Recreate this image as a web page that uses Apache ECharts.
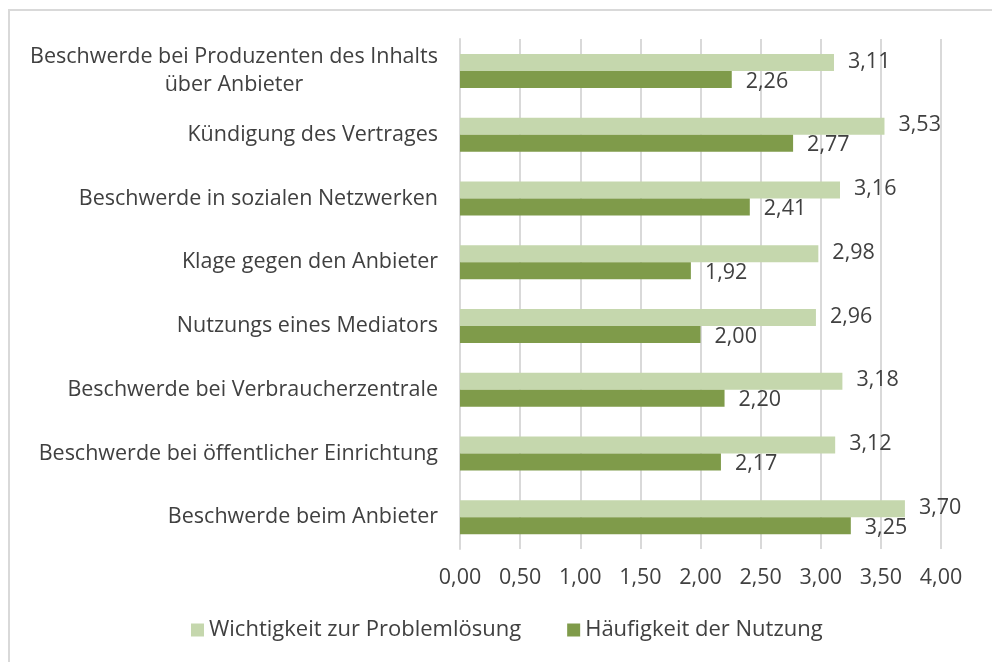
<!DOCTYPE html>
<html lang="de">
<head>
<meta charset="UTF-8" />
<title>Beschwerdewege</title>
<script src="https://cdn.jsdelivr.net/npm/echarts@6/dist/echarts.min.js"></script>
<style>
  html, body { margin: 0; padding: 0; background: #fff; }
  #main { width: 992px; height: 662px; }
</style>
</head>
<body>
<div id="main"></div>
<script>
// Kategorien von oben nach unten
var categories = [
  'Beschwerde bei Produzenten des Inhalts\nüber Anbieter',
  'Kündigung des Vertrages',
  'Beschwerde in sozialen Netzwerken',
  'Klage gegen den Anbieter',
  'Nutzungs eines Mediators',
  'Beschwerde bei Verbraucherzentrale',
  'Beschwerde bei öffentlicher Einrichtung',
  'Beschwerde beim Anbieter'
];
var seriesNames = ['Wichtigkeit zur Problemlösung', 'Häufigkeit der Nutzung'];
var wichtigkeit = [3.11, 3.53, 3.16, 2.98, 2.96, 3.18, 3.12, 3.70];
var haeufigkeit = [2.26, 2.77, 2.41, 1.92, 2.00, 2.20, 2.17, 3.25];
var xTicks = [0, 0.5, 1, 1.5, 2, 2.5, 3, 3.5, 4];

var fontFam = '"Open Sans", "Noto Sans", sans-serif';
var textCol = '#404040';
var fs = 21.5;

function komma(v) {
  return Number(v).toFixed(2).replace('.', ',');
}

// Breite der ersten Zeile messen, damit die zweite Zeile mittig steht
var cv = document.createElement('canvas').getContext('2d');
cv.font = fs + 'px ' + fontFam;
var wrapWidth = Math.ceil(cv.measureText(categories[0].split('\n')[0]).width);

var myChart = echarts.init(document.getElementById('main'));

var option = {
  animation: false,
  backgroundColor: '#fff',
  textStyle: { fontFamily: fontFam, color: textCol },
  graphic: [
    { type: 'line', shape: { x1: 8, y1: 10, x2: 992, y2: 10 }, style: { stroke: '#d9d9d9', lineWidth: 2 } },
    { type: 'line', shape: { x1: 9, y1: 10, x2: 9, y2: 662 }, style: { stroke: '#d9d9d9', lineWidth: 2 } }
  ],
  grid: { left: 460, right: 51, top: 39, bottom: 113 },
  legend: {
    top: 614,
    left: 186,
    itemWidth: 13,
    itemHeight: 13,
    itemGap: 46,
    icon: 'rect',
    textStyle: { fontSize: 22, color: textCol, fontFamily: fontFam },
    data: seriesNames
  },
  xAxis: {
    type: 'value',
    min: 0,
    max: 4,
    interval: 0.5,
    axisLine: { show: false },
    axisTick: { show: false },
    splitLine: { lineStyle: { color: '#d9d9d9', width: 2 } },
    axisLabel: {
      margin: 18,
      fontSize: fs,
      color: textCol,
      formatter: function (v) {
        return xTicks.indexOf(v) >= 0 ? komma(v) : '';
      }
    }
  },
  yAxis: {
    type: 'category',
    inverse: true,
    data: categories,
    axisLine: { lineStyle: { color: '#d9d9d9', width: 2 } },
    axisTick: { show: false },
    axisLabel: {
      margin: 22,
      fontSize: fs,
      color: textCol,
      lineHeight: 28,
      formatter: function (v) {
        if (v.indexOf('\n') < 0) return v;
        return v.split('\n').map(function (s) { return '{w|' + s + '}'; }).join('\n');
      },
      rich: {
        w: { width: wrapWidth, align: 'center', fontSize: fs, lineHeight: 28, color: textCol }
      }
    }
  },
  series: [
    {
      name: seriesNames[0],
      type: 'bar',
      data: wichtigkeit,
      barWidth: 17,
      barGap: '0%',
      itemStyle: { color: '#c5d7ad' },
      label: {
        show: true,
        position: 'right',
        distance: 14,
        fontSize: fs,
        color: textCol,
        offset: [0, -1],
        formatter: function (p) { return komma(p.value); }
      }
    },
    {
      name: seriesNames[1],
      type: 'bar',
      data: haeufigkeit,
      barWidth: 17,
      barGap: '0%',
      itemStyle: { color: '#7f9b4a' },
      label: {
        show: true,
        position: 'right',
        distance: 14,
        fontSize: fs,
        color: textCol,
        offset: [0, 2],
        formatter: function (p) { return komma(p.value); }
      }
    }
  ]
};

myChart.setOption(option);
</script>
</body>
</html>
